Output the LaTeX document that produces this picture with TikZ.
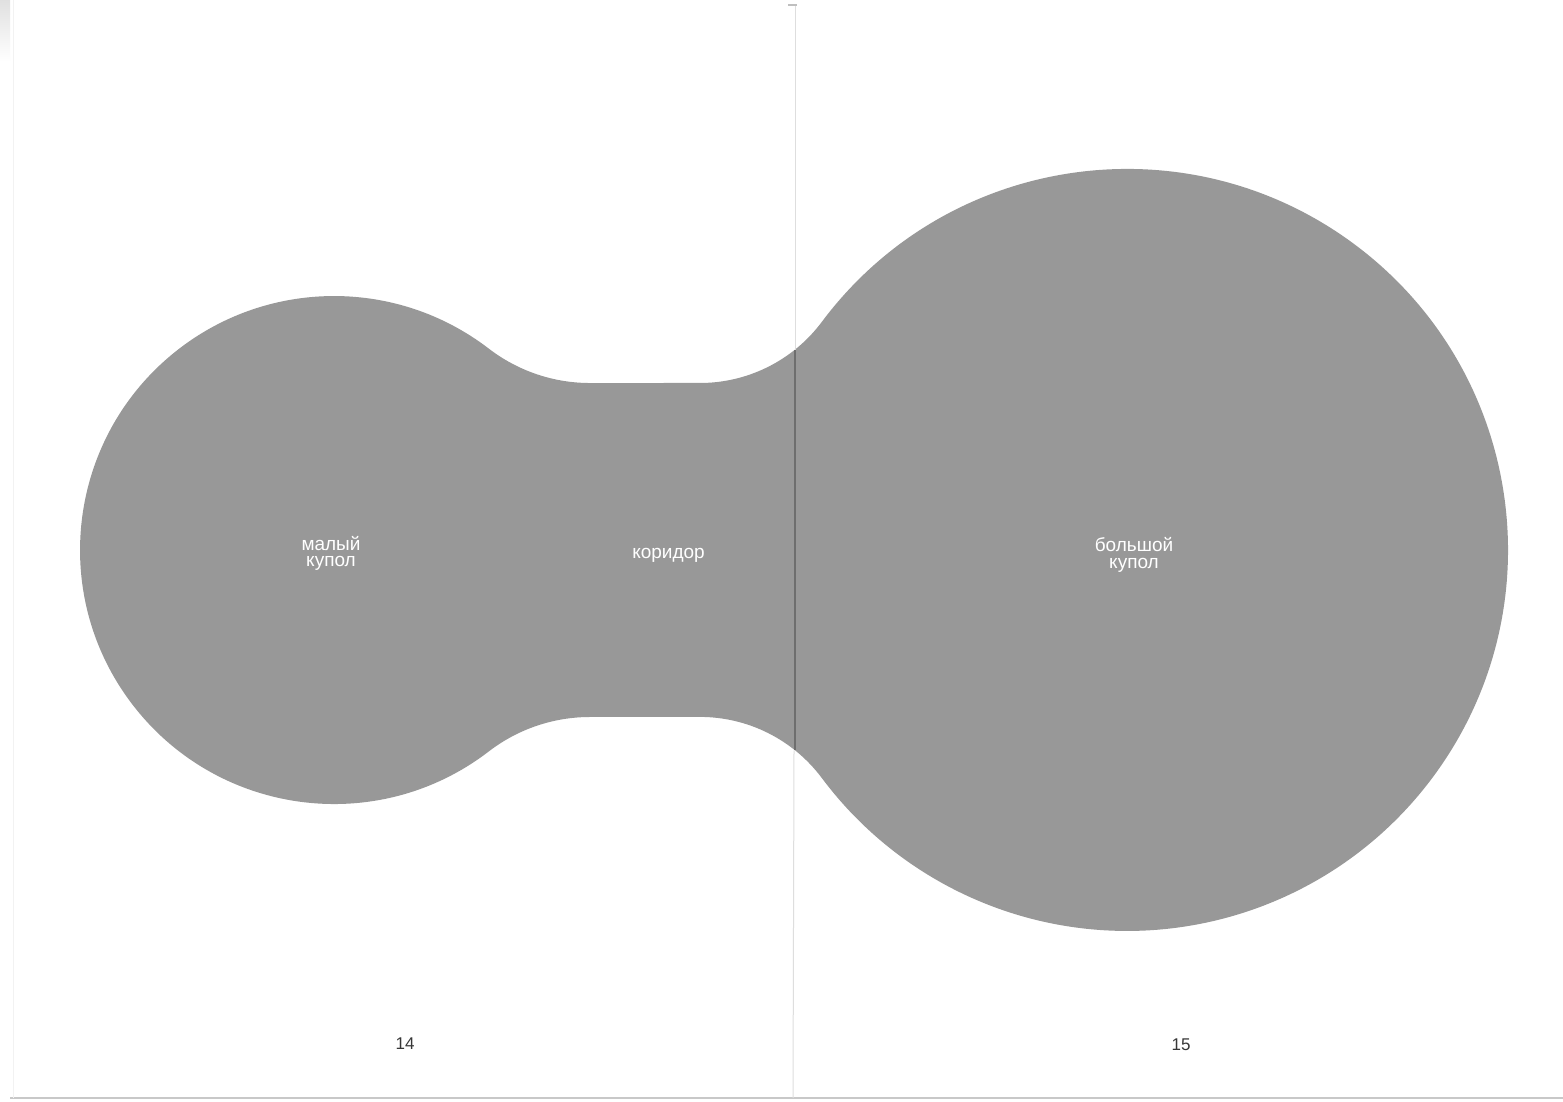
\documentclass[tikz,border=0pt]{standalone}
\usepackage{fontspec}
\setmainfont{Liberation Sans}
\definecolor{domegray}{RGB}{152,152,152}
\definecolor{foldlight}{RGB}{222,222,222}
\definecolor{folddark}{RGB}{110,110,110}
\definecolor{edgegray}{RGB}{200,200,200}
\definecolor{numgray}{RGB}{55,55,55}
\tikzset{
  roomlabel/.style={text=white, align=center, inner sep=0pt, font=\fontsize{19}{16.5}\selectfont},
  pagenum/.style={text=numgray, inner sep=0pt, font=\fontsize{17}{17}\selectfont},
}
\begin{document}
\begin{tikzpicture}[x=1pt,y=1pt]
\useasboundingbox (0,0) rectangle (1563,1102);
\fill[white] (0,0) rectangle (1563,1102);
% page edges
\draw[edgegray, line width=1.2pt] (10,4) -- (1563,4);
\draw[black!5, line width=1pt] (13,4) -- (13,1102);
\shade[top color=black!12, bottom color=white] (0,1040) rectangle (10,1102);
% gray dome shape
\fill[domegray] (334,552) ++(52.45:254pt)
  arc[start angle=232.45, end angle=270, radius=166pt]
  -- (700,719)
  arc[start angle=270, end angle=323.24, radius=152pt]
  arc[start angle=143.24, end angle=-143.24, radius=381pt]
  arc[start angle=36.76, end angle=90, radius=152pt]
  -- (590,385)
  arc[start angle=90, end angle=127.55, radius=166pt]
  arc[start angle=-52.45, end angle=-307.55, radius=254pt]
  -- cycle;
% fold of the spread
\draw[foldlight, line width=1pt] (795,1097) -- (795,752.4);
\draw[foldlight, line width=1pt] (794,351.6) -- (793,4);
\draw[folddark, line width=1.1pt] (795,752.4) -- (795,351.6);
\draw[black!25, line width=1.5pt] (788,1097) -- (797,1097);
% labels
\node[roomlabel] (small) at (331,548.5) {малый\\купол};
\node[roomlabel, anchor=base] (corr) at (668.5,543) {коридор};
\node[roomlabel] (big) at (1134,547) {большой\\купол};
\node[pagenum] (p14) at (405,58.5) {14};
\node[pagenum] (p15) at (1181,57) {15};
\end{tikzpicture}
\end{document}
